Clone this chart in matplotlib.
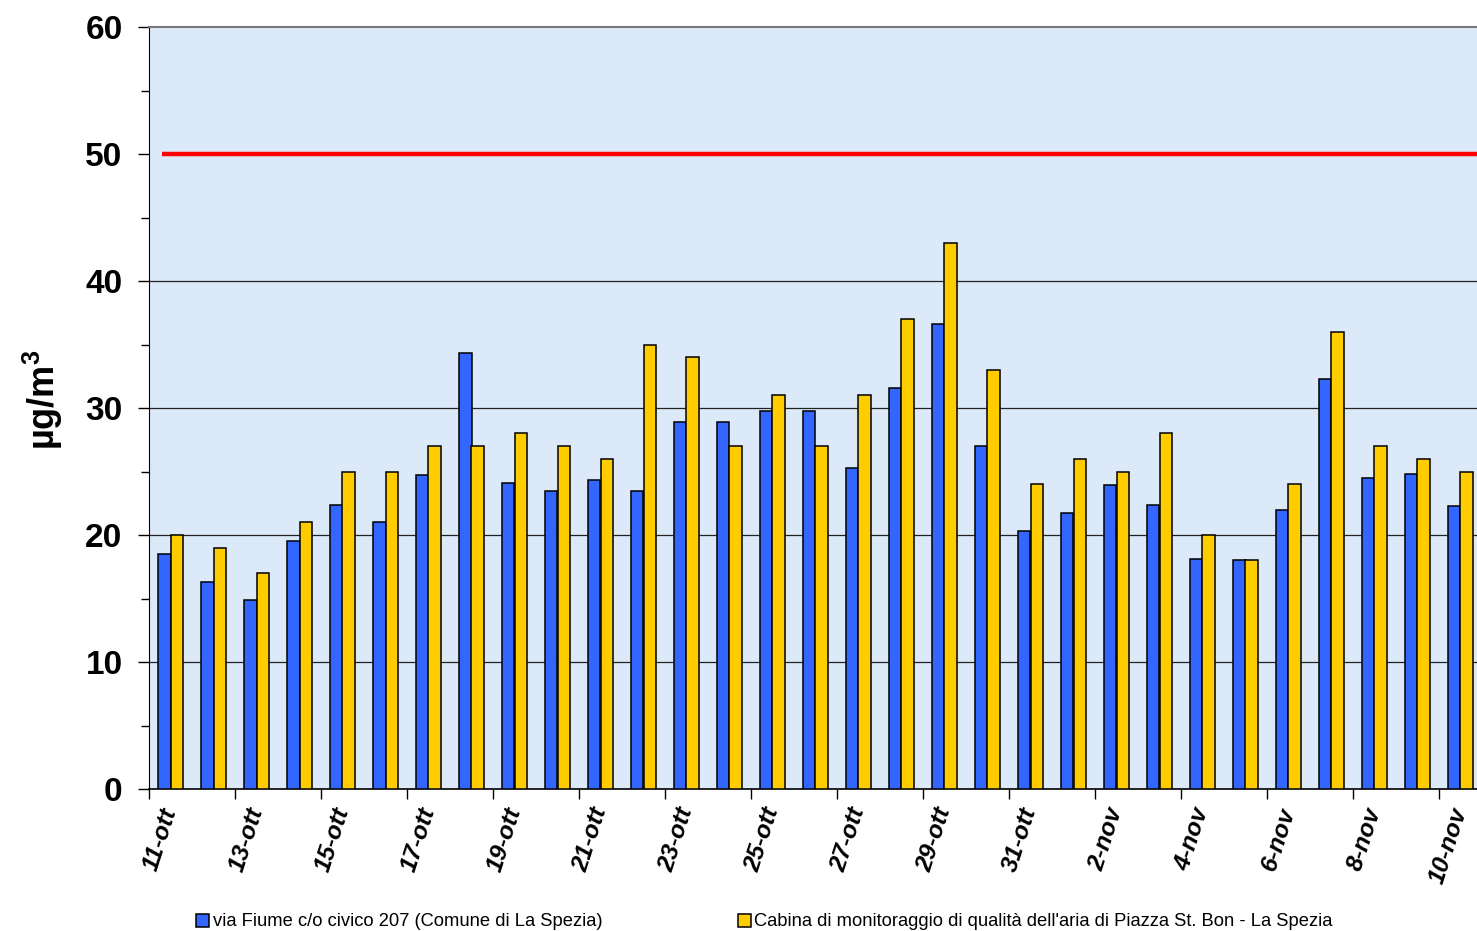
import matplotlib
matplotlib.use("Agg")
import matplotlib.pyplot as plt
from matplotlib.ticker import MultipleLocator, FixedLocator
import numpy as np

dates = ["11-ott", "12-ott", "13-ott", "14-ott", "15-ott", "16-ott", "17-ott", "18-ott",
         "19-ott", "20-ott", "21-ott", "22-ott", "23-ott", "24-ott", "25-ott", "26-ott",
         "27-ott", "28-ott", "29-ott", "30-ott", "31-ott", "1-nov", "2-nov", "3-nov",
         "4-nov", "5-nov", "6-nov", "7-nov", "8-nov", "9-nov", "10-nov"]
via_fiume = [18.5, 16.3, 14.9, 19.5, 22.4, 21.0, 24.7, 34.3, 24.1, 23.5, 24.3, 23.5,
             28.9, 28.9, 29.8, 29.8, 25.3, 31.6, 36.6, 27.0, 20.3, 21.7, 23.9, 22.4,
             18.1, 18.0, 22.0, 32.3, 24.5, 24.8, 22.3]
cabina = [20, 19, 17, 21, 25, 25, 27, 27, 28, 27, 26, 35, 34, 27, 31, 27, 31, 37, 43,
          33, 24, 26, 25, 28, 20, 18, 24, 36, 27, 26, 25]
limit_value = 50
series_names = ["via Fiume c/o civico 207 (Comune di La Spezia)",
                "Cabina di monitoraggio di qualità dell'aria di Piazza St. Bon - La Spezia"]

plt.rcParams['font.family'] = ['Liberation Sans', 'DejaVu Sans']
plt.rcParams['mathtext.fontset'] = 'custom'
plt.rcParams['mathtext.rm'] = 'Liberation Sans'
plt.rcParams['mathtext.bf'] = 'Liberation Sans:bold'

fig = plt.figure(figsize=(14.77, 9.31), dpi=100)
W, H = 1477, 931
left, right = 149 / W, 1482 / W
bottom, top = (H - 789) / H, (H - 27) / H
ax = fig.add_axes([left, bottom, right - left, top - bottom])
ax.set_facecolor('#dce9f8')

x = np.arange(len(dates))
bw = 0.29
ax.bar(x - bw / 2, via_fiume, width=bw, color='#3366FF', edgecolor='black',
       linewidth=1.1, label=series_names[0], zorder=3)
ax.bar(x + bw / 2, cabina, width=bw, color='#FFCC00', edgecolor='black',
       linewidth=1.1, label=series_names[1], zorder=3)

ax.plot([-0.2, 30.5], [limit_value, limit_value], color='#FF0000', linewidth=3.2, zorder=4,
        solid_capstyle='butt')

ax.set_xlim(-0.5, 30.5)
ax.set_ylim(0, 60)

# y axis
ax.yaxis.set_major_locator(MultipleLocator(10))
ax.yaxis.set_minor_locator(MultipleLocator(5))
ax.tick_params(axis='y', which='major', length=8, width=1, direction='out', pad=11,
               labelsize=24)
ax.tick_params(axis='y', which='minor', length=6, width=1, direction='out')
for lbl in ax.get_yticklabels():
    lbl.set_fontweight('bold')
for yv in [10, 20, 30, 40]:
    ax.axhline(yv, color='#222222', linewidth=0.9, zorder=1)

# x axis: tick marks at boundaries every 2 categories, labels at centres
ax.xaxis.set_major_locator(FixedLocator(np.arange(-0.5, 31, 2)))
ax.xaxis.set_minor_locator(FixedLocator(x[::2]))
ax.set_xticklabels([], minor=False)
ax.set_xticklabels([dates[i] for i in x[::2]], minor=True)
ax.tick_params(axis='x', which='major', length=7, width=1, direction='out')
ax.tick_params(axis='x', which='minor', length=0, pad=14, labelsize=17.5)
for lbl in ax.get_xticklabels(minor=True):
    lbl.set_rotation(72)
    lbl.set_rotation_mode('anchor')
    lbl.set_ha('right')
    lbl.set_va('center')
    lbl.set_fontweight('bold')
    lbl.set_fontstyle('italic')

ax.spines['top'].set_color('#777777')
ax.spines['top'].set_linewidth(1.5)
ax.spines['right'].set_visible(False)
ax.spines['left'].set_color('black')
ax.spines['bottom'].set_color('black')
ax.spines['bottom'].set_linewidth(1.2)

fig.text(43 / W, (H - 400) / H, 'µg/m$^\\mathbf{3}$', rotation=90,
         ha='center', va='center', fontsize=26, fontweight='bold')

leg = fig.legend(loc='center', bbox_to_anchor=(0.5176, (H - 922) / H), ncol=2,
                 frameon=False, fontsize=13.2, handlelength=0.7, handleheight=0.7,
                 handletextpad=0.2, columnspacing=7.4, borderaxespad=0)

fig.savefig('out.png', dpi=100)
